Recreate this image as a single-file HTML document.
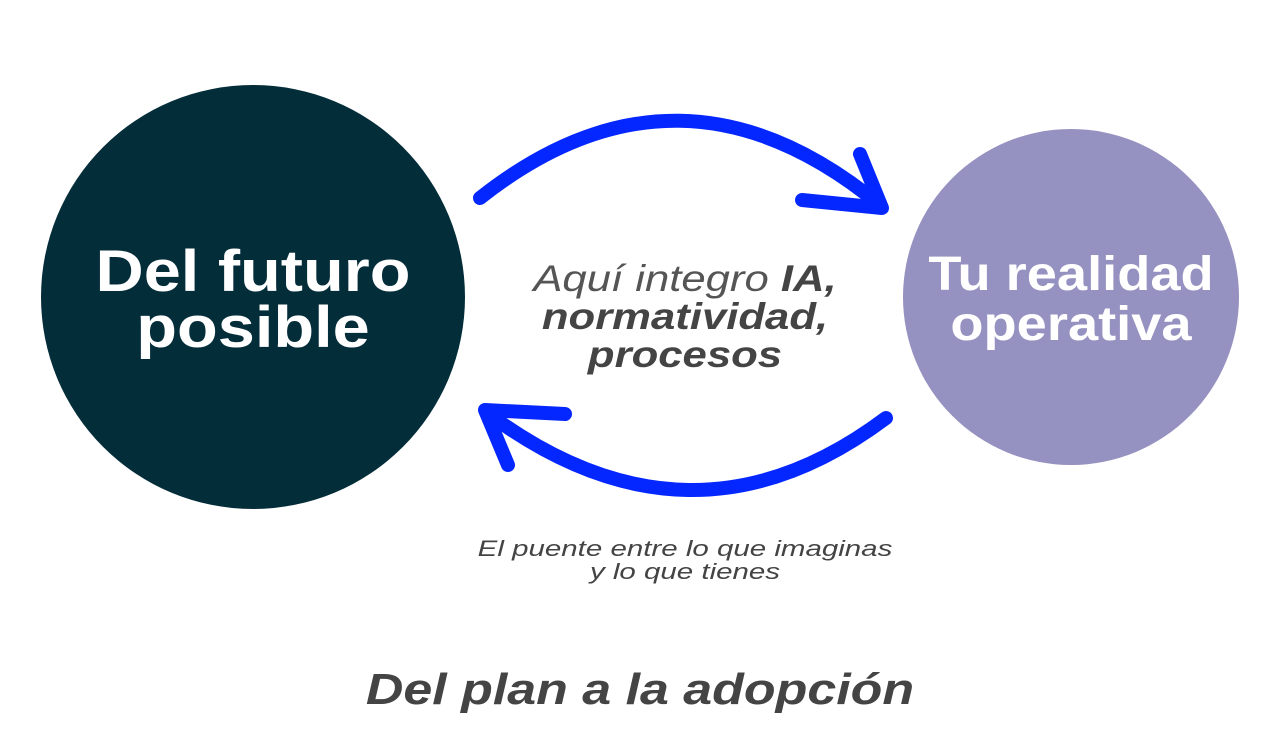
<!DOCTYPE html>
<html><head><style>
body{margin:0;width:1280px;height:738px;background:#fff;position:relative;overflow:hidden;font-family:"Liberation Sans",sans-serif}
.t{position:absolute;text-align:center;font-weight:bold}
</style></head><body>
<svg width="1280" height="738" style="position:absolute;left:0;top:0">
<circle cx="253" cy="297" r="212" fill="#042d3a"/>
<circle cx="1071" cy="297" r="168" fill="#9591c0"/>
<g fill="none" stroke="#0527ff" stroke-width="14" stroke-linecap="round" stroke-linejoin="round">
<path d="M480 198 Q680 40 880 205"/>
<path d="M802 200 L882 208 L860 154"/>
<path d="M886 418 Q690 565 486 412"/>
<path d="M565 414 L485 410 L508 465"/>
</g>
</svg>
<div class="t" style="left:40px;top:244px;width:426px;color:#fff;font-size:58px;line-height:56px;transform:scaleX(1.15)">Del futuro<br>posible</div>
<div class="t" style="left:903px;top:250px;width:336px;color:#fff;font-size:48px;line-height:50px;transform:scaleX(1.13)">Tu realidad<br>operativa</div>
<div class="t" style="left:490px;top:260px;width:390px;color:#444;font-size:37px;line-height:38px;font-style:italic;transform:scaleX(1.18)"><span style="font-weight:normal;color:#555">Aquí integro</span> IA,<br>normatividad,<br>procesos</div>
<div class="t" style="left:400px;top:537px;width:570px;color:#444;font-size:22px;line-height:23px;font-style:italic;font-weight:normal;transform:scaleX(1.34)">El puente entre lo que imaginas<br>y lo que tienes</div>
<div class="t" style="left:250px;top:665px;width:780px;color:#444;font-size:44px;font-style:italic;transform:scaleX(1.18)">Del plan a la adopción</div>
</body></html>
